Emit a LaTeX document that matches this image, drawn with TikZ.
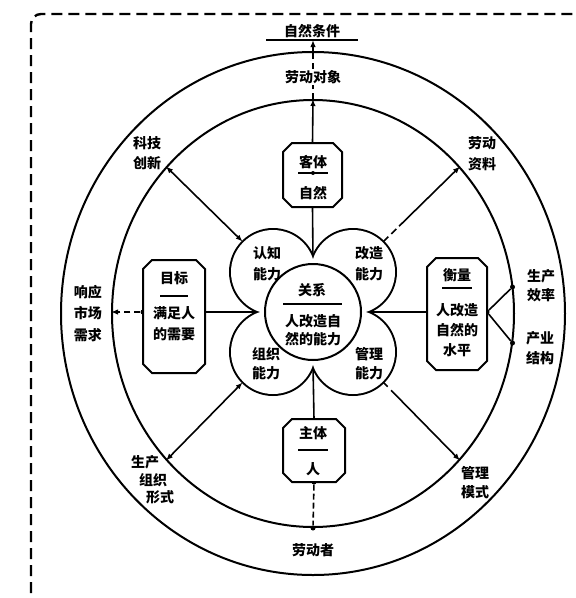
\documentclass[tikz,border=0pt]{standalone}
\usepackage{fontspec}
\newfontfamily\cjk{Noto Sans CJK SC}
\usetikzlibrary{arrows.meta,shapes.geometric}
\tikzset{
  lbl/.style={inner sep=0pt, align=center, font=\cjk\bfseries\fontsize{14}{20}\selectfont},
  ring/.style={draw, ellipse, inner sep=0pt, line width=2pt},
  conn/.style={line width=1.6pt},
  tip/.style={-{Latex[length=7pt,width=5.5pt]}},
  tips/.style={{Latex[length=7pt,width=5.5pt]}-{Latex[length=7pt,width=5.5pt]}},
  dot/.style={circle, fill, inner sep=0pt, minimum size=5pt},
  boxnode/.style={rectangle, inner sep=0pt, outer sep=0pt},
  boxline/.style={draw, fill=white, line width=2pt},
  petal/.style={circle, minimum size=84pt, inner sep=0pt, outer sep=1pt},
  divider/.style={line width=1.6pt},
}
\newcommand\chamferbox[1]{%
  \path[boxline] ([xshift=9pt]#1.north west) -- ([xshift=-9pt]#1.north east)
    -- ([yshift=-9pt]#1.north east) -- ([yshift=9pt]#1.south east)
    -- ([xshift=-9pt]#1.south east) -- ([xshift=9pt]#1.south west)
    -- ([yshift=9pt]#1.south west) -- ([yshift=-9pt]#1.north west) -- cycle;}
\begin{document}
\begin{tikzpicture}[x=1pt,y=-1pt]
\useasboundingbox (0,0) rectangle (576,598);
% dashed frame
\draw[line width=2.4pt, dash pattern=on 11pt off 6pt, rounded corners=10pt] (31,593) |- (576,14);
% rings
\node[ring, minimum width=504pt, minimum height=523pt] (outer) at (313,313.5) {};
\node[ring, minimum width=402pt, minimum height=427pt] (inner) at (313,313.5) {};
% flower geometry
\coordinate (fc) at (313,312);
\node[petal] (pUL) at (273,272) {};
\node[petal] (pUR) at (353,272) {};
\node[petal] (pLL) at (273,352) {};
\node[petal] (pLR) at (353,352) {};
\coordinate (ftop) at (313,259);
\coordinate (fbot) at (313,365);
\coordinate (fleft) at (260,312);
\coordinate (fright) at (366,312);
% boxes (positions)
\node[boxnode, minimum width=59pt, minimum height=64pt] (keti) at (312.5,175) {};
\node[boxnode, minimum width=62pt, minimum height=113pt] (mubiao) at (174,316.5) {};
\node[boxnode, minimum width=60pt, minimum height=112pt] (hengliang) at (457,314) {};
\node[boxnode, minimum width=62pt, minimum height=63pt] (zhuti) at (314,450.5) {};
% top label and underline
\node[lbl] (ziran) at (312,31) {自然条件};
\coordinate (ulL) at (266,40);
\coordinate (ulR) at (358,40);
\coordinate (ulM) at (313,40);
\draw[line width=1.8pt] (ulL) -- (ulR);
% connectors
\draw[conn, tip] (keti.north) -- (inner.north);
\draw[conn, dash pattern=on 6pt off 4pt] (inner.north) -- (outer.north);
\draw[conn, dash pattern=on 6pt off 4pt, tip] (outer.north) -- (ulM);
\draw[conn] (ftop) -- (keti.south);
\draw[conn] (fbot) -- (zhuti.north);
\draw[conn] (fleft) -- (mubiao.east |- fleft);
\draw[conn] (fright) -- (hengliang.west |- fright);
\node[dot] (d1) at (mubiao.west |- fleft) {};
\draw[conn, dash pattern=on 6pt off 4pt, tip] (d1) -- (inner.west |- fleft);
\node[dot] (d2) at (hengliang.east |- fright) {};
\node[dot] (d3) at (512.5,287) {};
\node[dot] (d4) at (512.5,343) {};
\draw[conn] (d2) -- (d3);
\draw[conn] (d2) -- (d4);
\node[dot] (d5) at (zhuti.south) {};
\node[dot] (d6) at (inner.south) {};
\draw[conn, dash pattern=on 6pt off 3pt] (d5) -- (d6);
\draw[conn, tips] (pUL.135) -- (inner.135);
\draw[conn, dash pattern=on 7pt off 4pt on 7pt off 4pt on 200pt, tip] (pUR.45) -- (inner.45);
\draw[conn, tips] (pLL.-135) -- (inner.-135);
\draw[conn, dash pattern=on 6pt off 5pt on 200pt, tip] (pLR.-45) -- (inner.-45);
% flower outline (union of petals)
\foreach \p in {pUL,pUR,pLL,pLR}{\draw[line width=4pt] (\p.center) circle[radius=42pt];}
\foreach \p in {pUL,pUR,pLL,pLR}{\fill[white] (\p.center) circle[radius=42pt];}
\node[draw, circle, fill=white, line width=2pt, minimum size=96pt, inner sep=0pt] (core) at (fc) {};
% boxes drawn
\chamferbox{keti}
\chamferbox{mubiao}
\chamferbox{hengliang}
\chamferbox{zhuti}
% box contents
\node[lbl] (ketiA) at (313,162) {客体};
\draw[divider] (298,173) -- (328,173);
\node[dot, minimum size=4pt] (ketiDot) at (313,173) {};
\node[lbl] (ketiB) at (313,193) {自然};
\node[lbl] (mubiaoA) at (174,278) {目标};
\draw[divider] (160,296) -- (188,296);
\node[lbl] (mubiaoB) at (174,323.5) {满足人\\[1pt]的需要};
\node[lbl] (hengA) at (457,275) {衡量};
\draw[divider] (442,288) -- (472,288);
\node[lbl] (hengB) at (457,330) {人改造\\自然的\\水平};
\node[lbl] (zhutiA) at (313,433) {主体};
\draw[divider] (298,450) -- (328,450);
\node[lbl] (zhutiB) at (313,469) {人};
% core contents
\node[lbl] (coreA) at (312,290) {关系};
\draw[divider] (283,304) -- (342,304);
\node[lbl] (coreB) at (313,330) {人改造自\\[-2pt]然的能力};
% petal labels
\node[lbl] (tUL) at (267,264) {认知\\[1pt]能力};
\node[lbl] (tUR) at (369,264) {改造\\[1pt]能力};
\node[lbl] (tLL) at (266,364) {组织\\[-1pt]能力};
\node[lbl] (tLR) at (369,364) {管理\\[-1pt]能力};
% ring labels
\node[lbl, fill=white, inner sep=1pt] (ldx) at (313,77) {劳动对象};
\node[lbl] (kjcx) at (147,153) {科技\\创新};
\node[lbl] (ldzl) at (482,154) {劳动\\[1pt]资料};
\node[lbl] (xysc) at (88,313.5) {响应\\[1.5pt]市场\\[1.5pt]需求};
\node[lbl] (scxl) at (541,286) {生产\\[-1pt]效率};
\node[lbl] (cyjg) at (540,348) {产业\\结构};
\node[lbl] (sc1) at (145,462) {生产};
\node[lbl] (sc2) at (153,480) {组织};
\node[lbl] (sc3) at (160,497) {形式};
\node[lbl] (glms) at (475,482.5) {管理\\[-1pt]模式};
\node[lbl] (ldz) at (313,550) {劳动者};
\end{tikzpicture}
\end{document}
